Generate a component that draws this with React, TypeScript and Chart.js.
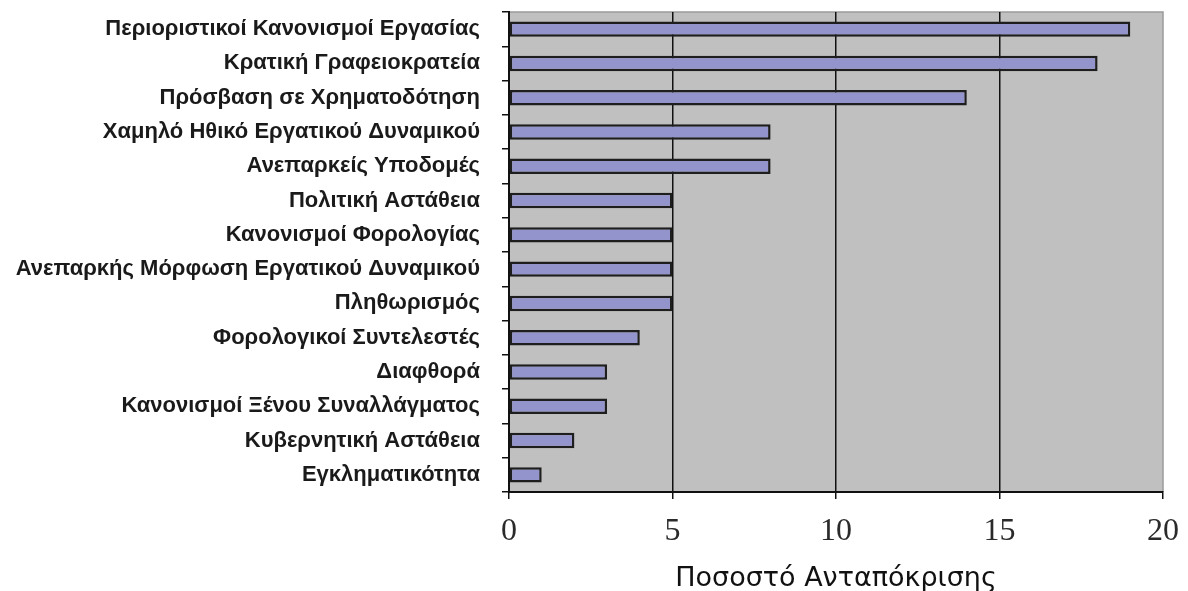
import React, { useEffect, useRef } from "react";
import { Chart, registerables } from "chart.js";

Chart.register(...registerables);

const categories: string[] = [
  "Περιοριστικοί Κανονισμοί Εργασίας",
  "Κρατική Γραφειοκρατεία",
  "Πρόσβαση σε Χρηματοδότηση",
  "Χαμηλό Ηθικό Εργατικού Δυναμικού",
  "Ανεπαρκείς Υποδομές",
  "Πολιτική Αστάθεια",
  "Κανονισμοί Φορολογίας",
  "Ανεπαρκής Μόρφωση Εργατικού Δυναμικού",
  "Πληθωρισμός",
  "Φορολογικοί Συντελεστές",
  "Διαφθορά",
  "Κανονισμοί Ξένου Συναλλάγματος",
  "Κυβερνητική Αστάθεια",
  "Εγκληματικότητα",
];

const values: number[] = [19, 18, 14, 8, 8, 5, 5, 5, 5, 4, 3, 3, 2, 1];

const xTicks: number[] = [0, 5, 10, 15, 20];
const xTitle = "Ποσοστό Ανταπόκρισης";

const bgPlugin = {
  id: "plotBg",
  beforeDraw(chart: any) {
    const { ctx, chartArea } = chart;
    if (!chartArea) return;
    ctx.save();
    ctx.fillStyle = "#c0c0c0";
    ctx.fillRect(chartArea.left, chartArea.top, chartArea.right - chartArea.left, chartArea.bottom - chartArea.top);
    ctx.strokeStyle = "#9a9a9a";
    ctx.lineWidth = 1.5;
    ctx.beginPath();
    ctx.moveTo(chartArea.left, chartArea.top);
    ctx.lineTo(chartArea.right, chartArea.top);
    ctx.lineTo(chartArea.right, chartArea.bottom);
    ctx.stroke();
    ctx.restore();
  },
};

export default function App() {
  const ref = useRef<HTMLCanvasElement | null>(null);

  useEffect(() => {
    if (!ref.current) return;
    const chart = new Chart(ref.current, {
      type: "bar",
      data: {
        labels: categories,
        datasets: [
          {
            data: values,
            backgroundColor: "#9494cc",
            borderColor: "#1e1e1e",
            borderWidth: 2.5,
            borderSkipped: false,
            barPercentage: 0.45,
            categoryPercentage: 1,
          },
        ],
      },
      options: {
        indexAxis: "y",
        animation: false,
        responsive: false,
        devicePixelRatio: 1,
        layout: { padding: { top: 12, right: 25, bottom: 0, left: 0 } },
        plugins: {
          legend: { display: false },
          tooltip: { enabled: false },
        },
        scales: {
          x: {
            type: "linear",
            min: 0,
            max: 20,
            afterBuildTicks: (scale: any) => {
              scale.ticks = xTicks.map((v) => ({ value: v }));
            },
            afterFit: (scale: any) => {
              scale.height = 99;
              scale.paddingLeft = 0;
              scale.paddingRight = 0;
            },
            grid: {
              color: (c: any) => (c.tick && (c.tick.value === 0 || c.tick.value === 20) ? "rgba(0,0,0,0)" : "#111"),
              tickColor: "#111",
              lineWidth: 1.5,
              tickLength: 7,
              drawOnChartArea: true,
            },
            border: { display: true, color: "#111", width: 2 },
            ticks: {
              color: "#2a2a2a",
              padding: 13,
              font: { family: "'Liberation Serif', serif", size: 32 },
            },
            title: {
              display: true,
              text: xTitle,
              color: "#111",
              padding: { top: 0, bottom: -4 },
              font: { family: "'DejaVu Sans', sans-serif", size: 27 },
            },
          },
          y: {
            type: "category",
            afterFit: (scale: any) => {
              scale.width = 509;
              scale.paddingTop = 0;
              scale.paddingBottom = 0;
            },
            grid: {
              offset: true,
              drawOnChartArea: false,
              color: "#111",
              lineWidth: 1.5,
              tickLength: 7,
            },
            border: { display: true, color: "#111", width: 2 },
            ticks: {
              color: "#1a1a1a",
              padding: 22,
              autoSkip: false,
              font: { family: "'Liberation Sans', Arial, sans-serif", size: 22, weight: "bold" },
            },
          },
        },
      },
      plugins: [bgPlugin],
    });
    return () => chart.destroy();
  }, []);

  return (
    <div style={{ position: "absolute", left: 0, top: 0, width: 1188, height: 591, background: "#fff" }}>
      <canvas ref={ref} width={1188} height={591} />
    </div>
  );
}
